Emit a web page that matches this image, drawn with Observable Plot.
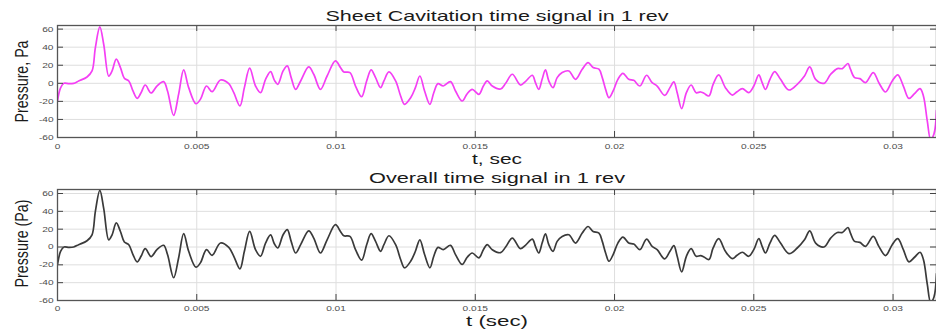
<!DOCTYPE html>
<html><head><meta charset="utf-8">
<script src="https://cdn.jsdelivr.net/npm/d3@7"></script>
<script src="https://cdn.jsdelivr.net/npm/@observablehq/plot@0.6"></script>
<style>body{margin:0;background:#fff;} svg{display:block;}</style>
</head><body><div id="chart"></div>
<script>
// time in milliseconds (axis labels shown in seconds)
const timeMs = [0,0.11,0.23,0.41,0.58,0.76,1.06,1.24,1.36,1.52,1.66,1.84,1.96,2.11,2.26,2.40,2.56,2.71,2.86,3.00,3.15,3.36,3.57,3.81,3.95,4.17,4.35,4.53,4.71,4.97,5.13,5.35,5.55,5.85,6.15,6.33,6.55,6.71,6.90,7.11,7.29,7.47,7.65,7.79,7.91,8.10,8.25,8.39,8.55,8.73,9.02,9.20,9.44,9.68,9.98,10.16,10.28,10.50,10.70,10.92,11.10,11.26,11.42,11.60,11.72,11.90,12.14,12.32,12.46,12.68,12.85,13.01,13.18,13.37,13.51,13.66,13.85,14.11,14.29,14.53,14.71,14.89,15.13,15.29,15.43,15.61,15.91,16.09,16.33,16.62,16.80,17.05,17.16,17.28,17.40,17.52,17.64,17.79,17.94,18.12,18.36,18.60,18.84,19.05,19.23,19.44,19.56,19.68,19.80,19.95,20.12,20.30,20.51,20.69,20.91,21.15,21.35,21.53,21.80,21.99,22.13,22.25,22.41,22.58,22.75,22.93,23.09,23.21,23.39,23.54,23.74,23.98,24.23,24.40,24.59,24.82,25.00,25.18,25.30,25.42,25.58,25.75,25.96,26.26,26.56,26.82,27.01,27.22,27.52,27.76,28.00,28.18,28.38,28.47,28.62,28.81,29.01,29.29,29.49,29.73,29.97,30.17,30.37,30.57,30.77,30.97,31.09,31.23,31.35,31.47,31.56];
const sheetPa = [-19.6,-5,0,-0.4,0,2.6,7,13.7,39.6,62.5,43,8,13.7,26.7,17.4,5.6,2.6,-8.5,-16.7,-10.4,-1.9,-10.7,-3,1.9,-8.5,-35.6,-12,14.8,-4.8,-22.6,-17.8,-3,-9.3,3.7,-0.4,-10.4,-25,-4.8,16.7,-3,-10.4,4.4,13,3.3,-1.1,13.7,19.3,6.3,-6.7,2.6,18.1,10,-6.7,8.1,24.8,17.4,12.6,11.9,-3,-14.8,2.6,14.8,6.3,-4.8,2.6,12.6,2.6,-14,-23.3,-16,-4.8,8.1,-8.5,-23.3,-10.4,-0.4,-3,1.9,-8.5,-19.6,-11.5,-6.7,-12.2,-3,2.6,-3,-6.3,0,10,-1.9,1.9,8.9,0.7,-6.7,4.4,14.8,2.6,-4.8,6.3,11.9,13.7,4.4,15.6,23,17.4,15.6,6.3,-6.7,-16,-8.5,4.4,11.1,4.4,3.3,-3,8.9,0.7,-3,-13.3,-4.8,1.5,-10.4,-28,-10.4,-1.9,-10.4,-9.6,-11.1,-14,-1.1,9.3,-4.8,-13,-9.3,-5.9,-10.4,-3,9.3,0.7,-6.7,4.4,13,4.4,-7.4,-1.1,8.1,18.1,4.4,0,10,16.3,16.3,21.9,15.6,6.3,5.2,0.7,11.9,0.7,-9.6,2.6,9.3,-3,-16.7,-11.5,-5.9,-14,-41.9,-62,-56,-30];
const overallPa = [-19.6,-5,0,-0.4,0,2.6,7,13.7,40,63.5,43,8,13.7,27,17.4,5.6,2.6,-8.5,-16.7,-10.4,-1.9,-10.7,-3,1.9,-8.5,-34.5,-12,15,-4.8,-22.6,-17.8,-3,-9.3,4.5,-0.4,-10.4,-24.5,-4.8,17.5,-3,-10.4,4.4,13.5,3.3,-1.1,13.7,19.5,6.3,-6.7,2.6,18.1,10,-6.7,8.1,25,17.4,12.6,11.9,-3,-14.8,2.6,15,6.3,-4.8,2.6,12.6,2.6,-14,-23.3,-16,-4.8,8.1,-8.5,-23.3,-10.4,-0.4,-3,1.9,-8.5,-19.6,-11.5,-6.7,-12.2,-3,2.6,-3,-6.3,0,10,-1.9,1.9,8.9,0.7,-6.7,4.4,14.8,2.6,-4.8,6.3,11.9,13.7,4.4,15.6,23,17.4,15.6,6.3,-6.7,-16,-8.5,4.4,11.1,4.4,3.3,-3,8.9,0.7,-3,-13.3,-4.8,1.5,-10.4,-28,-10.4,-1.9,-10.4,-9.6,-11.1,-14,-1.1,9.3,-4.8,-13,-9.3,-5.9,-10.4,-3,9.3,0.7,-6.7,4.4,13,4.4,-7.4,-1.1,8.1,18.1,4.4,0,10,16.3,16.3,21.9,15.6,6.3,5.2,0.7,11.9,0.7,-9.6,2.6,9.3,-3,-16.7,-11.5,-5.9,-14,-41.9,-62,-56,-30];

const xTicks = [0,5,10,15,20,25,30];
const xTickLabels = ["0","0.005","0.01","0.015","0.02","0.025","0.03"];
const yTicks = [-60,-40,-20,0,20,40,60];
const yTickLabels = ["-60","-40","-20","0","20","40","60"];
const titles = ["Sheet Cavitation time signal in 1 rev","Overall time signal in 1 rev"];
const xLabels = ["t, sec","t (sec)"];
const yLabels = ["Pressure, Pa","Pressure (Pa)"];
const lineColors = ["#f43ff4","#3a3a3a"];

const W = 936, ML = 57, MR = 0;

function panel(o) {
  const data = timeMs.map((t, i) => ({t, p: o.values[i]}));
  const fh = o.height - o.mt - o.mb;
  const fw = W - ML - MR;
  return Plot.plot({
    width: W, height: o.height,
    marginLeft: ML, marginRight: MR, marginTop: o.mt, marginBottom: o.mb,
    style: {fontFamily: "'Liberation Sans', Arial, sans-serif", background: "#fff", overflow: "visible"},
    x: {domain: [0, 31.56]},
    y: {domain: [-60, o.yMax]},
    marks: [
      Plot.ruleX(xTicks, {stroke: "#dedede", strokeWidth: 1}),
      Plot.ruleY(yTicks, {stroke: "#dedede", strokeWidth: 1}),
      Plot.line(data, {x: "t", y: "p", stroke: o.color, strokeWidth: 1.7, curve: "catmull-rom", clip: true}),
      Plot.ruleX(xTicks, {stroke: "#444", insetTop: fh - 6}),
      Plot.ruleX(xTicks, {stroke: "#444", insetBottom: fh - 6}),
      Plot.ruleY(yTicks, {stroke: "#444", insetRight: fw - 6}),
      Plot.ruleY(yTicks, {stroke: "#444", insetLeft: fw - 6}),
      Plot.frame({stroke: "#555", strokeWidth: 1.3}),
      Plot.axisX(xTicks, {anchor: "bottom", tickSize: 0, tickPadding: o.xPad, tickFormat: d => xTickLabels[xTicks.indexOf(d)], fontSize: 7.5, fill: "#4d4d4d", label: null}),
      Plot.axisY(yTicks, {anchor: "left", tickSize: 0, tickPadding: 4, tickFormat: d => yTickLabels[yTicks.indexOf(d)], fontSize: 7.5, fill: "#4d4d4d", label: null}),
      Plot.text([o.title], {frameAnchor: "top", textAnchor: "middle", lineAnchor: "bottom", dy: o.titleDy, fontSize: 15, fill: "#1a1a1a"}),
      Plot.text([o.xlabel], {frameAnchor: "bottom", textAnchor: "middle", lineAnchor: "bottom", dy: o.xlabelDy, fontSize: 15, fill: "#1a1a1a"}),
      Plot.text([o.ylabel], {frameAnchor: "left", textAnchor: "middle", lineAnchor: "bottom", rotate: -90, dx: -30, dy: o.ylabelDy, fontSize: 19, fill: "#1a1a1a"})
    ]
  });
}

const chart = document.getElementById("chart");
const p1 = panel({values: sheetPa, color: lineColors[0], yMax: 64, height: 167, mt: 25, mb: 30, xPad: 6,
  title: titles[0], xlabel: xLabels[0], ylabel: yLabels[0], titleDy: -4.3, xlabelDy: 26.3, ylabelDy: 0});
const p2 = panel({values: overallPa, color: lineColors[1], yMax: 64.5, height: 167, mt: 22, mb: 34, xPad: 5,
  title: titles[1], xlabel: xLabels[1], ylabel: yLabels[1], titleDy: -6.7, xlabelDy: 25, ylabelDy: -1.5});
chart.appendChild(p1);
chart.appendChild(p2);

const lengths = {};
lengths[titles[0]] = 343; lengths[titles[1]] = 256;
lengths[xLabels[0]] = 50; lengths[xLabels[1]] = 62;
lengths[yLabels[0]] = 82; lengths[yLabels[1]] = 88;
for (const svg of [p1, p2]) {
  svg.querySelectorAll("text").forEach(el => {
    const s = el.textContent;
    if (lengths[s] != null) {
      el.setAttribute("textLength", lengths[s]);
      el.setAttribute("lengthAdjust", "spacingAndGlyphs");
    }
  });
  svg.querySelectorAll('g[aria-label="x-axis tick label"] text, g[aria-label="y-axis tick label"] text').forEach(el => {
    const L = el.getComputedTextLength();
    el.setAttribute("textLength", (L * 1.35).toFixed(1));
    el.setAttribute("lengthAdjust", "spacingAndGlyphs");
  });
}
</script></body></html>
